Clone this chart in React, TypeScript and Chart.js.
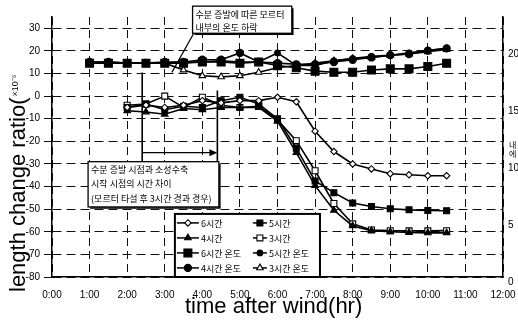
import React, { useEffect, useRef } from "react";
import { Chart, registerables } from "chart.js";

Chart.register(...registerables);

// ---------- data ----------
const tempTimes = [1, 1.5, 2, 2.5, 3, 3.5, 4, 4.5, 5, 5.5, 6, 6.5, 7, 7.5, 8, 8.5, 9, 9.5, 10, 10.5];
const lengthTimes = [2, 2.5, 3, 3.5, 4, 4.5, 5, 5.5, 6, 6.5, 7, 7.5, 8, 8.5, 9, 9.5, 10, 10.5];

const len6h = [-5, -4, -5, -4, -2, -3, -2, -2, -0.5, -2.5, -15.5, -24.5, -30, -32.2, -34.3, -34.8, -35.2, -35.2];
const len5h = [-5, -3.5, -6, -4.5, -5, -2, -0.5, -3.5, -10, -23, -37.5, -42.7, -47.3, -48.8, -49.8, -50.3, -50.6, -50.7];
const len4h = [-6.5, -7, -8, -5.5, -6, -5, -5, -5, -11, -25, -39.6, -50.5, -57.4, -59.5, -60, -60.3, -60.5, -60.5];
const len3h = [-4, -3.5, 0, -5, -0.5, -4, -5, -4.5, -10.5, -19.7, -33, -47.5, -56.5, -59.2, -59.5, -59.6, -59.6, -59.5];

const temp6h = [19.2, 19.2, 19.2, 19.2, 19.2, 19.2, 19.3, 19.3, 19.2, 19.3, 19.0, 18.8, 18.5, 18.4, 18.4, 18.6, 18.7, 18.7, 18.9, 19.2];
const temp5h = [19.3, 19.3, 19.2, 19.2, 19.2, 19.3, 19.3, 19.4, 19.3, 19.3, 20.1, 19.0, 19.0, 19.4, 19.6, 19.8, 19.9, 20.1, 20.3, 20.5];
const temp4h = [19.3, 19.3, 19.2, 19.2, 19.3, 19.3, 19.5, 19.5, 20.1, 19.3, 19.2, 19.1, 19.1, 19.3, 19.5, 19.7, 19.9, 20.0, 20.3, 20.5];
const temp3h = [19.2, 19.2, 19.2, 19.2, 19.2, 18.6, 18.1, 18.0, 18.1, 18.4, 18.8, 19.0, 19.2, 19.4, 19.6, 19.7, 19.9, 20.0, 20.2, 20.4];

const xTickLabels = ["0:00", "1:00", "2:00", "3:00", "4:00", "5:00", "6:00", "7:00", "8:00", "9:00", "10:00", "11:00", "12:00"];
const leftTickValues = [-80, -70, -60, -50, -40, -30, -20, -10, 0, 10, 20, 30];
const rightTickValues = [0, 5, 10, 15, 20];

const seriesNames = ["6시간", "5시간", "4시간", "3시간", "6시간 온도", "5시간 온도", "4시간 온도", "3시간 온도"];
const noteTop = ["수분 증발에 따른 모르터", "내부의 온도 하락"];
const noteBottom = ["수분 증발 시점과 소성수축", "시작 시점의 시간 차이", "(모르터 타설 후 3시간 경과 경우)"];
const xTitle = "time after wind(hr)";
const yTitleMain = "length change ratio(";
const yTitleUnit = "×10⁻⁶";
const y2TitleChars = ["내", "에"];

// ---------- styles ----------
type Mk = { pointStyle: string; radius: number; fill: string };
const markers: Mk[] = [
  { pointStyle: "rectRot", radius: 3.2, fill: "#fff" },
  { pointStyle: "rect", radius: 4.2, fill: "#000" },
  { pointStyle: "triangle", radius: 3.8, fill: "#000" },
  { pointStyle: "rect", radius: 4.2, fill: "#fff" },
  { pointStyle: "rect", radius: 5.6, fill: "#000" },
  { pointStyle: "circle", radius: 2.8, fill: "#000" },
  { pointStyle: "circle", radius: 3.6, fill: "#000" },
  { pointStyle: "triangle", radius: 3.8, fill: "#fff" },
];

const seriesData = [len6h, len5h, len4h, len3h, temp6h, temp5h, temp4h, temp3h];

const TICK_FONT = { family: "'Liberation Sans', Arial, sans-serif", size: 10 };
const KR_FONT = "9px 'Noto Sans CJK KR', sans-serif";
const TITLE_FONT = "22px 'Liberation Sans', Arial, sans-serif";

function drawMarker(ctx: CanvasRenderingContext2D, m: Mk, x: number, y: number) {
  const r = m.radius;
  ctx.beginPath();
  if (m.pointStyle === "circle") {
    ctx.arc(x, y, r, 0, Math.PI * 2);
  } else if (m.pointStyle === "rect") {
    const s = r * Math.SQRT1_2;
    ctx.rect(x - s, y - s, 2 * s, 2 * s);
  } else if (m.pointStyle === "rectRot") {
    ctx.moveTo(x, y - r);
    ctx.lineTo(x + r, y);
    ctx.lineTo(x, y + r);
    ctx.lineTo(x - r, y);
    ctx.closePath();
  } else {
    ctx.moveTo(x, y - r);
    ctx.lineTo(x + 0.866 * r, y + 0.5 * r);
    ctx.lineTo(x - 0.866 * r, y + 0.5 * r);
    ctx.closePath();
  }
  ctx.fillStyle = m.fill;
  ctx.fill();
  ctx.lineWidth = 1.1;
  ctx.strokeStyle = "#000";
  ctx.stroke();
}

function noteBox(ctx: CanvasRenderingContext2D, l: number, t: number, r: number, b: number, lines: string[], lineGap: number, firstOffset: number) {
  ctx.fillStyle = "#fff";
  ctx.fillRect(l, t, r - l, b - t);
  ctx.strokeStyle = "#000";
  ctx.lineWidth = 1.3;
  ctx.strokeRect(l, t, r - l, b - t);
  ctx.lineWidth = 1.5;
  ctx.beginPath();
  ctx.moveTo(l + 2, b + 1);
  ctx.lineTo(r + 1, b + 1);
  ctx.lineTo(r + 1, t + 2);
  ctx.stroke();
  ctx.fillStyle = "#000";
  ctx.font = KR_FONT;
  ctx.textAlign = "left";
  ctx.textBaseline = "middle";
  lines.forEach((s, i) => ctx.fillText(s, l + 3, t + firstOffset + i * lineGap));
}

const overlayPlugin = {
  id: "overlay",
  afterDraw(chart: any) {
    const ctx: CanvasRenderingContext2D = chart.ctx;
    const xs = chart.scales.x;
    const ys = chart.scales.y;
    const px = (v: number) => xs.getPixelForValue(v);
    const py = (v: number) => ys.getPixelForValue(v);
    const area = chart.chartArea;
    ctx.save();

    // pointer line from top note
    ctx.strokeStyle = "#000";
    ctx.lineWidth = 1.2;
    ctx.beginPath();
    ctx.moveTo(px(3.78), py(28));
    ctx.lineTo(px(3.19), py(10.5));
    ctx.stroke();

    // top note
    noteBox(ctx, px(3.74), py(39.8), px(6.38), py(27.8), noteTop, 13, 8);

    // vertical lines & arrow
    ctx.lineWidth = 1.6;
    ctx.beginPath();
    ctx.moveTo(px(2.4), py(10.5));
    ctx.lineTo(px(2.4), py(-29));
    ctx.moveTo(px(4.4), py(2.5));
    ctx.lineTo(px(4.4), py(-29));
    ctx.stroke();
    ctx.lineWidth = 1.3;
    const ay = py(-25);
    ctx.beginPath();
    ctx.moveTo(px(2.4), ay);
    ctx.lineTo(px(4.4) - 3, ay);
    ctx.stroke();
    ctx.beginPath();
    ctx.moveTo(px(4.4), ay);
    ctx.lineTo(px(4.4) - 8, ay - 3.5);
    ctx.lineTo(px(4.4) - 8, ay + 3.5);
    ctx.closePath();
    ctx.fillStyle = "#000";
    ctx.fill();

    // bottom note
    noteBox(ctx, px(0.96), py(-29), px(4.44), py(-49), noteBottom, 14.5, 7.5);

    // legend
    const lL = px(3.27), lT = py(-52.1), lR = px(7.13), lB = area.bottom;
    ctx.fillStyle = "#fff";
    ctx.fillRect(lL, lT, lR - lL, lB - lT);
    ctx.strokeStyle = "#000";
    ctx.lineWidth = 2;
    ctx.strokeRect(lL, lT, lR - lL, lB - lT);
    const cols = [
      { a: 2, b: 24, t: 26 },
      { a: 78, b: 92, t: 94 },
    ];
    for (let i = 0; i < seriesNames.length; i++) {
      const row = Math.floor(i / 2);
      const c = cols[i % 2];
      const yy = lT + 9 + row * 15;
      ctx.strokeStyle = "#000";
      ctx.lineWidth = 1.5;
      ctx.beginPath();
      ctx.moveTo(lL + c.a, yy);
      ctx.lineTo(lL + c.b, yy);
      ctx.stroke();
      drawMarker(ctx, markers[i], lL + (c.a + c.b) / 2, yy);
      ctx.fillStyle = "#000";
      ctx.font = KR_FONT;
      ctx.textAlign = "left";
      ctx.textBaseline = "middle";
      ctx.fillText(seriesNames[i], lL + c.t, yy + 0.5);
    }

    // axis titles
    ctx.fillStyle = "#000";
    ctx.font = TITLE_FONT;
    ctx.textAlign = "left";
    ctx.textBaseline = "alphabetic";
    ctx.fillText(xTitle, 185, 313);
    ctx.save();
    ctx.translate(25, 292);
    ctx.rotate(-Math.PI / 2);
    ctx.fillText(yTitleMain, 0, 0);
    const w = ctx.measureText(yTitleMain).width;
    ctx.font = "9px 'Liberation Sans', Arial, sans-serif";
    ctx.fillText(yTitleUnit, w + 1, -7);
    ctx.restore();

    ctx.font = "8px 'Noto Sans CJK KR', sans-serif";
    ctx.textBaseline = "middle";
    y2TitleChars.forEach((s, i) => ctx.fillText(s, 509, 145 + i * 9));

    ctx.restore();
  },
};

export default function App() {
  const ref = useRef<HTMLCanvasElement>(null);
  useEffect(() => {
    document.body.style.margin = "0";
    const canvas = ref.current!;
    const datasets = seriesData.map((vals, i) => {
      const times = i < 4 ? lengthTimes : tempTimes;
      const m = markers[i];
      return {
        label: seriesNames[i],
        data: vals.map((v, k) => ({ x: times[k], y: v })),
        yAxisID: i < 4 ? "y" : "y2",
        borderColor: "#000",
        borderWidth: 1.6,
        tension: 0,
        pointStyle: m.pointStyle,
        pointRadius: m.radius,
        pointBackgroundColor: m.fill,
        pointBorderColor: "#000",
        pointBorderWidth: 1.1,
        fill: false,
      };
    });
    const chart = new Chart(canvas, {
      type: "line",
      data: { datasets } as any,
      options: {
        responsive: false,
        animation: false,
        devicePixelRatio: 1,
        layout: { padding: { top: 17, left: 0, right: 0, bottom: 0 } },
        plugins: { legend: { display: false }, tooltip: { enabled: false } },
        scales: {
          x: {
            type: "linear",
            min: 0,
            max: 12,
            afterBuildTicks: (s: any) => {
              s.ticks = xTickLabels.map((_, i) => ({ value: i }));
            },
            afterFit: (s: any) => {
              s.height = 43;
            },
            ticks: {
              callback: (v: any) => xTickLabels[Math.round(Number(v))] ?? "",
              font: TICK_FONT,
              color: "#000",
              padding: 1,
              maxRotation: 0,
              autoSkip: false,
            },
            grid: { color: "#111", lineWidth: 1, drawTicks: true, tickLength: 11, tickColor: "rgba(0,0,0,0)" },
            border: { color: "#000", width: 1.5, dash: [8, 5] },
          },
          y: {
            position: "left",
            min: -80,
            max: 35,
            afterBuildTicks: (s: any) => {
              s.ticks = leftTickValues.map((v) => ({ value: v }));
            },
            afterFit: (s: any) => {
              s.width = 52;
            },
            ticks: { font: TICK_FONT, color: "#000", padding: 4 },
            grid: { color: "#111", lineWidth: 1, tickLength: 8 },
            border: { color: "#000", width: 1.5, dash: [9, 5] },
          },
          y2: {
            position: "right",
            min: 0.44,
            max: 23.25,
            afterBuildTicks: (s: any) => {
              s.ticks = rightTickValues.map((v) => ({ value: v }));
            },
            afterFit: (s: any) => {
              s.width = 15;
            },
            ticks: { font: TICK_FONT, color: "#000", padding: 5 },
            grid: { display: false, drawTicks: false },
            border: { color: "#000", width: 1.5 },
          },
        },
      } as any,
      plugins: [overlayPlugin],
    });
    return () => chart.destroy();
  }, []);
  return <canvas ref={ref} width={518} height={320} style={{ display: "block" }} />;
}
